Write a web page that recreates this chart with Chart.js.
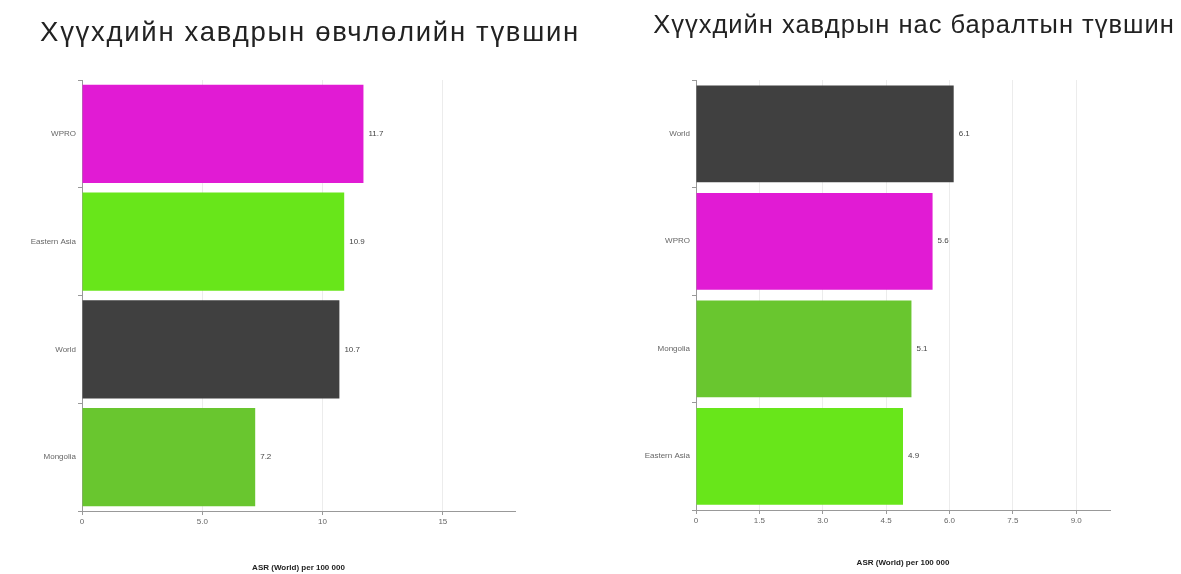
<!DOCTYPE html>
<html>
<head>
<meta charset="utf-8">
<script src="https://cdn.jsdelivr.net/npm/chart.js@4.4.0/dist/chart.umd.min.js"></script>
<style>
    body { margin: 0; background: #fff; }
    #wrap { position: relative; width: 1181px; height: 574px; }
    .box { position: absolute; top: 0; height: 574px; }
</style>
</head>
<body>
<div id="wrap">
    <div class="box" style="left:0;width:620px;"><canvas id="incidenceChart"></canvas></div>
    <div class="box" style="left:640px;width:541px;"><canvas id="mortalityChart"></canvas></div>
</div>
<script>
const incidenceLabels = ["WPRO", "Eastern Asia", "World", "Mongolia"];
const incidenceValues = [11.7, 10.9, 10.7, 7.2];
const incidenceColors = ["#e11bd4", "#68e61a", "#404040", "#69c62f"];

const mortalityLabels = ["World", "WPRO", "Mongolia", "Eastern Asia"];
const mortalityValues = [6.1, 5.6, 5.1, 4.9];
const mortalityColors = ["#404040", "#e11bd4", "#69c62f", "#68e61a"];

const FONT = "'Liberation Sans', Arial, sans-serif";

// Draws the value text just right of each bar
const valueLabels = {
    id: "valueLabels",
    afterDatasetsDraw(chart) {
        const ctx = chart.ctx;
        const meta = chart.getDatasetMeta(0);
        const data = chart.data.datasets[0].data;
        ctx.save();
        ctx.font = "8px " + FONT;
        ctx.fillStyle = "#444";
        ctx.textBaseline = "middle";
        meta.data.forEach((bar, i) => {
            ctx.fillText(data[i].toFixed(1), bar.x + 5, bar.y);
        });
        ctx.restore();
    },
};

// Heading drawn in the top padding so it is not squeezed to the chart box width
const headingPlugin = {
    id: "heading",
    afterDraw(chart, args, opts) {
        const ctx = chart.ctx;
        ctx.save();
        ctx.font = opts.size + "px " + FONT;
        ctx.letterSpacing = opts.spacing + "px";
        ctx.fillStyle = "#222";
        ctx.textAlign = "center";
        ctx.textBaseline = "middle";
        ctx.fillText(opts.text, opts.x, opts.y);
        ctx.restore();
    },
};

function makeChart(id, title, labels, values, colors, opts) {
    const ctx = document.getElementById(id).getContext("2d");
    return new Chart(ctx, {
        type: "bar",
        data: {
            labels: labels,
            datasets: [
                {
                    data: values,
                    backgroundColor: colors,
                    borderWidth: 0,
                    categoryPercentage: 1,
                    barPercentage: opts.barPct,
                },
            ],
        },
        options: {
            indexAxis: "y",
            responsive: true,
            maintainAspectRatio: false,
            animation: false,
            layout: {
                padding: { left: 0, right: opts.padRight, top: opts.padTop, bottom: 0 },
            },
            scales: {
                x: {
                    min: 0,
                    max: opts.max,
                    ticks: {
                        stepSize: opts.step,
                        color: "#666",
                        font: { family: FONT, size: 8 },
                        padding: 2,
                        callback: opts.tickFormat,
                    },
                    afterBuildTicks: (scale) => {
                        scale.ticks = scale.ticks.filter((t) => Math.abs(t.value / opts.step - Math.round(t.value / opts.step)) < 1e-6);
                    },
                    grid: {
                        color: "#ececec",
                        tickLength: 4,
                        tickColor: "#999",
                    },
                    border: { color: "#999" },
                    title: {
                        display: true,
                        text: "ASR (World) per 100 000",
                        color: "#222",
                        font: { family: FONT, size: 8, weight: "bold" },
                        padding: { top: 0, bottom: opts.titleBottom },
                    },
                    afterFit: (scale) => {
                        scale.height = opts.xHeight;
                    },
                },
                y: {
                    ticks: {
                        color: "#666",
                        font: { family: FONT, size: 8 },
                        padding: 2,
                    },
                    grid: {
                        display: true,
                        drawOnChartArea: false,
                        tickLength: 4,
                        tickColor: "#999",
                    },
                    border: { color: "#999" },
                    afterFit: (scale) => {
                        scale.width = opts.yWidth;
                    },
                },
            },
            plugins: {
                legend: { display: false },
                tooltip: { enabled: false },
                title: { display: false },
                heading: {
                    text: title,
                    size: opts.titleSize,
                    spacing: opts.titleSpacing,
                    x: opts.titleX,
                    y: opts.titleY,
                },
            },
        },
        plugins: [valueLabels, headingPlugin],
    });
}

makeChart("incidenceChart", "Хүүхдийн хавдрын өвчлөлийн түвшин", incidenceLabels, incidenceValues, incidenceColors, {
    max: 18,
    step: 5,
    barPct: 0.91,
    padRight: 105,
    padTop: 80,
    yWidth: 82,
    xHeight: 63,
    titleBottom: 1,
    titleSize: 27.5,
    titleSpacing: 1.7,
    titleX: 310,
    titleY: 33,
    tickFormat: (v) => (v === 0 ? "0" : v < 10 ? v.toFixed(1) : String(v)),
});

makeChart("mortalityChart", "Хүүхдийн хавдрын нас баралтын түвшин", mortalityLabels, mortalityValues, mortalityColors, {
    max: 9.8,
    step: 1.5,
    barPct: 0.9,
    padRight: 71,
    padTop: 80,
    yWidth: 56,
    xHeight: 64,
    titleBottom: 6,
    titleSize: 25.5,
    titleSpacing: 1.0,
    titleX: 274,
    titleY: 26,
    tickFormat: (v) => (v === 0 ? "0" : v.toFixed(1)),
});
</script>
</body>
</html>
